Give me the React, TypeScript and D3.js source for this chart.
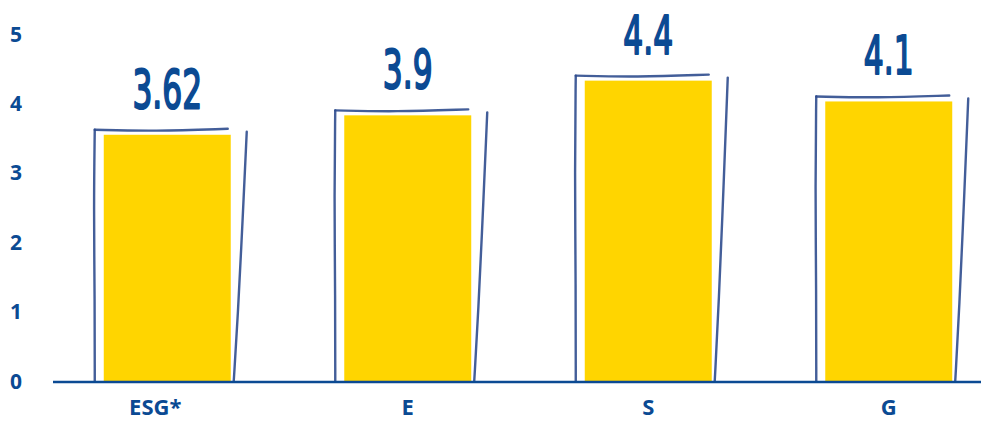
import React from "react";
import * as d3 from "d3";

const categories = ["ESG*", "E", "S", "G"];
const values = [3.62, 3.9, 4.4, 4.1];
const valueLabels = ["3.62", "3.9", "4.4", "4.1"];
const yTicks = [0, 1, 2, 3, 4, 5];

const W = 981;
const H = 423;
const BLUE = "#0b4a93";
const SKETCH = "#2f4c8e";
const YELLOW = "#FFD500";

export default function App() {
  const y = d3.scaleLinear().domain([0, 5]).range([381, 34]);
  const x = d3
    .scaleBand()
    .domain(categories)
    .range([47, 1009])
    .paddingInner(0.472)
    .paddingOuter(0.236);
  const bw = x.bandwidth();
  const line = d3.line<[number, number]>().curve(d3.curveBasis);

  return (
    <div style={{ position: "fixed", left: 0, top: 0, width: W, height: H, overflow: "hidden", background: "#fff" }}>
      <svg width={W} height={H} style={{ display: "block" }}>
        {yTicks.map((t) => (
          <text
            key={t}
            x={16}
            y={y(t)}
            dy="0.36em"
            textAnchor="middle"
            fill={BLUE}
            fontFamily="'Open Sans', sans-serif"
            fontWeight={700}
            fontSize={21}
          >
            {t}
          </text>
        ))}
        {categories.map((c, i) => {
          const x0 = x(c)!;
          const x1 = x0 + bw;
          const top = y(values[i]);
          const bot = y(0);
          const left: [number, number][] = [
            [x0 - 9, top],
            [x0 - 10, top + (bot - top) * 0.3],
            [x0 - 9, top + (bot - top) * 0.7],
            [x0 - 9, bot],
          ];
          const topL: [number, number][] = [
            [x0 - 9, top],
            [x0 + bw * 0.4, top + 1.5],
            [x1 - 3, top - 1],
          ];
          const right: [number, number][] = [
            [x1 + 16, top + 2],
            [x1 + 12, top + (bot - top) * 0.35],
            [x1 + 7, top + (bot - top) * 0.75],
            [x1 + 3, bot],
          ];
          const lx = x0 + bw / 2;
          return (
            <g key={c}>
              <rect x={x0} y={top + 5} width={bw} height={bot - top - 5} fill={YELLOW} />
              {[left, topL, right].map((pts, k) => (
                <path
                  key={k}
                  d={line(pts)!}
                  fill="none"
                  stroke={SKETCH}
                  strokeWidth={2.4}
                  strokeLinecap="round"
                  opacity={0.9}
                />
              ))}
              <text
                transform={`translate(${lx},${top - 22}) scale(0.58,1)`}
                textAnchor="middle"
                fill={BLUE}
                stroke={BLUE}
                strokeWidth={2.2}
                strokeLinejoin="round"
                fontFamily="'DejaVu Sans', sans-serif"
                fontWeight={400}
                fontSize={54}
              >
                {valueLabels[i]}
              </text>
              <text
                x={c === "ESG*" ? lx - 12 : lx}
                y={407}
                dy="0.36em"
                textAnchor="middle"
                fill={BLUE}
                fontFamily="'Open Sans', sans-serif"
                fontWeight={700}
                fontSize={22}
              >
                {c}
              </text>
            </g>
          );
        })}
        <line x1={53} x2={W} y1={382} y2={382} stroke={BLUE} strokeWidth={2.5} />
      </svg>
    </div>
  );
}
